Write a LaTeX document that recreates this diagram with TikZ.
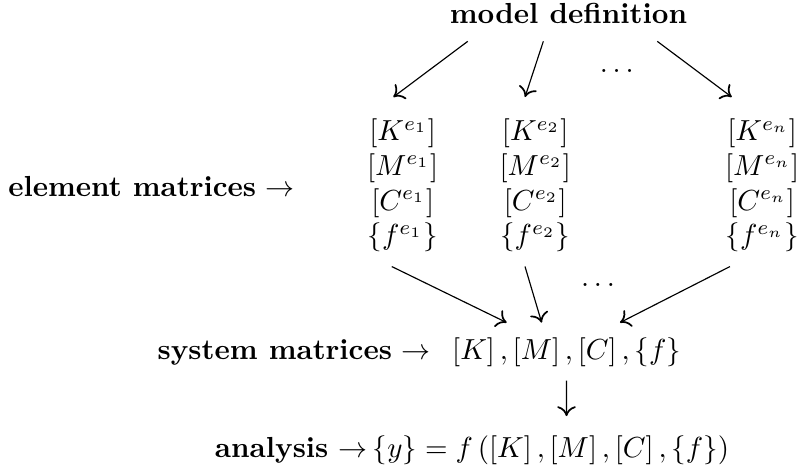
\documentclass[tikz,border=0pt]{standalone}
\usepackage{amsmath}
\usepackage{amssymb}
\usepackage{tikz}
\usetikzlibrary{arrows.meta}

\begin{document}
\begin{tikzpicture}[
    >={To[length=3.4pt,width=6.4pt,line width=0.6pt]},
    txt/.style={anchor=base},
    elmat/.style={align=center, inner sep=7.3pt},
    gap/.style={inner sep=0pt}
  ]
    % Fix the size of the picture
    \useasboundingbox (0,0) rectangle (9.658,5.659);

    % Top node
    \node[txt] (mdef) at (6.889,5.38) {\textbf{model definition}};

    % Element matrices, one column for each element
    \node[elmat] (col1) at (4.880,3.411) {$\left[K^{e_1}\right]$\\ $\left[M^{e_1}\right]$\\ $\left[C^{e_1}\right]$\\ $\left\{f^{e_1}\right\}$};
    \node[elmat] (col2) at (6.486,3.411) {$\left[K^{e_2}\right]$\\ $\left[M^{e_2}\right]$\\ $\left[C^{e_2}\right]$\\ $\left\{f^{e_2}\right\}$};
    \node[elmat] (coln) at (9.235,3.411) {$\left[K^{e_n}\right]$\\ $\left[M^{e_n}\right]$\\ $\left[C^{e_n}\right]$\\ $\left\{f^{e_n}\right\}$};
    \node[txt] (elem) at (1.836,3.276) {\textbf{element matrices} $\rightarrow$};

    % Dots for the elements left out
    \node[gap] (dtop) at (7.473,4.802) {$\ldots$};
    \node[gap] (dbot) at (7.247,2.205) {$\ldots$};

    % System matrices
    \node[txt] (syslbl) at (3.565,1.297) {\textbf{system matrices} $\rightarrow$};
    \node[txt] (sys) at (6.865,1.297) {$\left[K\right], \left[M\right], \left[C\right], \left\{f\right\}$};

    % Analysis
    \node[txt] (analbl) at (3.526,0.109) {\textbf{analysis} $\rightarrow$};
    \node[txt] (ana) at (6.676,0.109) {$\left\{y\right\} = f\left(\left[K\right], \left[M\right], \left[C\right], \left\{f\right\}\right)$};

    % Arrows from the model to the elements
    \foreach \c/\a/\b in {col1/-1.221/-0.114, col2/-0.305/-0.124, coln/1.076/-0.368} {
        \draw[->] ([xshift=\a cm,yshift=-0.096cm]mdef.south) -- ([xshift=\b cm]\c.north);
    }

    % Arrows from the elements to the system
    \foreach \c/\a/\b in {col1/-0.133/-0.725, col2/-0.124/-0.301, coln/-0.389/0.648} {
        \draw[->] ([xshift=\a cm,yshift=0.09cm]\c.south) -- ([xshift=\b cm,yshift=0.065cm]sys.north);
    }

    % Arrow to the analysis
    \draw[->] ([yshift=-0.038cm]sys.south) -- ([xshift=0.189cm,yshift=0.12cm]ana.north);
\end{tikzpicture}
\end{document}
